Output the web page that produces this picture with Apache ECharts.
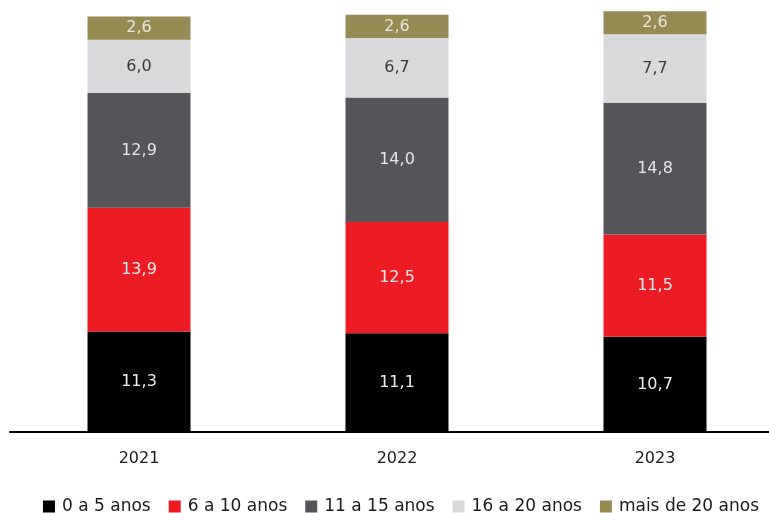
<!DOCTYPE html>
<html>
<head>
<meta charset="utf-8">
<script src="https://cdn.jsdelivr.net/npm/echarts@6/dist/echarts.min.js"></script>
<style>
  html, body { margin: 0; padding: 0; background: #fff; }
  #chart { width: 769px; height: 513px; }
</style>
</head>
<body>
<div id="chart"></div>
<script>
var years = ['2021', '2022', '2023'];
var seriesNames = ['0 a 5 anos', '6 a 10 anos', '11 a 15 anos', '16 a 20 anos', 'mais de 20 anos'];
var anos0a5 = [11.3, 11.1, 10.7];
var anos6a10 = [13.9, 12.5, 11.5];
var anos11a15 = [12.9, 14.0, 14.8];
var anos16a20 = [6.0, 6.7, 7.7];
var anosMais20 = [2.6, 2.6, 2.6];

var colors = ['#000000', '#ed1c24', '#555559', '#d9d9db', '#968a55'];
var labelColors = ['#eeeeee', '#eeeeee', '#e6e6e6', '#3a3a3a', '#ece8d8'];
var allData = [anos0a5, anos6a10, anos11a15, anos16a20, anosMais20];

var chart = echarts.init(document.getElementById('chart'));

var series = [];
for (var i = 0; i < seriesNames.length; i++) {
    series.push({
        name: seriesNames[i],
        type: 'bar',
        stack: 'total',
        barWidth: 103,
        data: allData[i],
        itemStyle: { color: colors[i] },
        label: {
            show: true,
            position: 'inside',
            color: labelColors[i],
            fontFamily: 'DejaVu Sans',
            fontSize: 16,
            formatter: function (p) {
                return p.value.toFixed(1).replace('.', ',');
            }
        }
    });
}

var option = {
    animation: false,
    grid: {
        left: 10,
        width: 774,
        top: 5,
        bottom: 81,
        outerBoundsMode: 'none'
    },
    legend: {
        data: seriesNames,
        left: 43,
        top: 498,
        padding: 0,
        icon: 'rect',
        itemWidth: 12,
        itemHeight: 12,
        itemGap: 18,
        textStyle: {
            fontFamily: 'DejaVu Sans',
            fontSize: 17,
            color: '#1a1a1a',
            padding: [0, 0, 0, 2]
        }
    },
    xAxis: {
        type: 'category',
        data: years,
        axisLine: { lineStyle: { color: '#000', width: 2 } },
        axisTick: { show: false },
        axisLabel: {
            margin: 19,
            fontFamily: 'DejaVu Sans',
            fontSize: 16,
            color: '#1a1a1a'
        }
    },
    yAxis: {
        type: 'value',
        min: 0,
        max: 48,
        show: false,
        splitLine: { show: false }
    },
    series: series
};

chart.setOption(option);
</script>
</body>
</html>
